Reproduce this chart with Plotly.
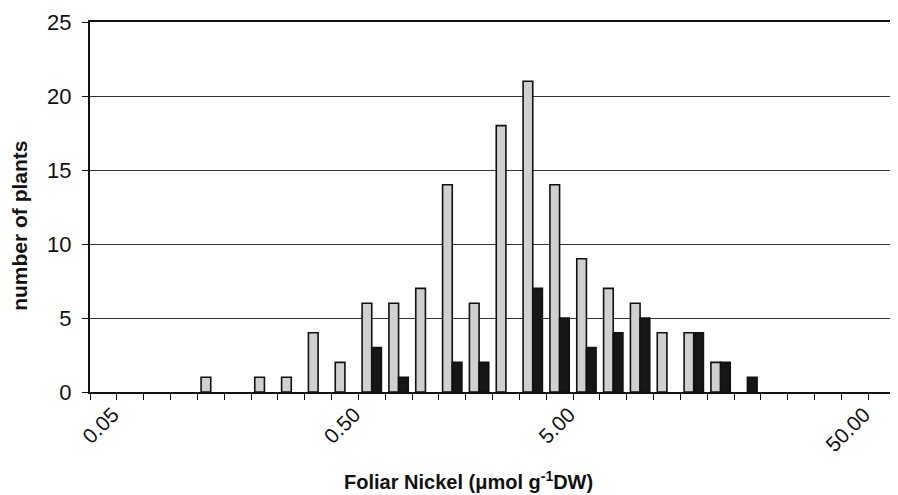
import plotly.graph_objects as go

# 30 log-spaced bins of foliar nickel concentration (category index 0..29)
bins = list(range(30))
series_gray = [0, 0, 0, 0, 1, 0, 1, 1, 4, 2, 6, 6, 7, 14, 6, 18, 21, 14, 9, 7, 6, 4, 4, 2, 0, 0, 0, 0, 0, 0]
series_black = [0, 0, 0, 0, 0, 0, 0, 0, 0, 0, 3, 1, 0, 2, 2, 0, 7, 5, 3, 4, 5, 0, 4, 2, 1, 0, 0, 0, 0, 0]
tick_bins = [1, 10, 18, 29]
tick_labels = ["0.05", "0.50", "5.00", "50.00"]
y_ticks = [0, 5, 10, 15, 20, 25]

FONT = "Arial, Liberation Sans, sans-serif"

def hide_zero(vals):
    return [v if v else None for v in vals]

fig = go.Figure()
fig.add_bar(x=bins, y=hide_zero(series_gray),
            marker=dict(color="#d0d0d0", line=dict(color="#111111", width=1.6)), showlegend=False)
fig.add_bar(x=bins, y=hide_zero(series_black),
            marker=dict(color="#161616", line=dict(color="#111111", width=1.6)), showlegend=False)

boundaries = [b - 0.5 for b in bins] + [bins[-1] + 0.5]

# page body has an 8px margin: figure is drawn at (8, 8)
fig.update_layout(
    width=890, height=487,
    margin=dict(l=82, r=3, t=14, b=103, autoexpand=False),
    paper_bgcolor="white", plot_bgcolor="white",
    barmode="group", bargap=0.28, bargroupgap=0,
    font=dict(family=FONT, color="#111111"),
    xaxis=dict(
        range=[-0.5, 29.5], tickmode="array", tickvals=[t - 0.65 for t in tick_bins], ticktext=tick_labels,
        tickangle=-45, ticks="", tickfont=dict(size=21, family=FONT, color="#111111"),
        showline=True, linecolor="#111111", linewidth=2, mirror=True, showgrid=False, zeroline=False,
        automargin=False,
        minor=dict(tickmode="array", tickvals=boundaries, ticks="outside", ticklen=6,
                   tickcolor="#111111", tickwidth=1, showgrid=False),
    ),
    yaxis=dict(
        range=[0, 25], tickmode="array", tickvals=y_ticks, ticks="outside", ticklen=6,
        tickcolor="#111111", tickwidth=1, tickfont=dict(size=22, family=FONT, color="#111111"),
        ticklabelstandoff=6,
        showline=True, linecolor="#111111", linewidth=2, mirror=True, automargin=False,
        showgrid=True, gridcolor="#333333", gridwidth=1, zeroline=False,
    ),
    annotations=[
        dict(text="<b>Foliar Nickel (\u03bcmol g<sup>-1</sup>DW)</b>", xref="paper", yref="paper",
             x=0.4696, y=-0.2395, xanchor="center", yanchor="middle", showarrow=False,
             font=dict(size=20, family=FONT, color="#111111")),
        dict(text="<b>number of plants</b>", xref="paper", yref="paper", textangle=-90,
             x=-0.087, y=0.449, xanchor="center", yanchor="middle", showarrow=False,
             font=dict(size=21, family=FONT, color="#111111")),
    ],
)

fig.write_html("out.html")
